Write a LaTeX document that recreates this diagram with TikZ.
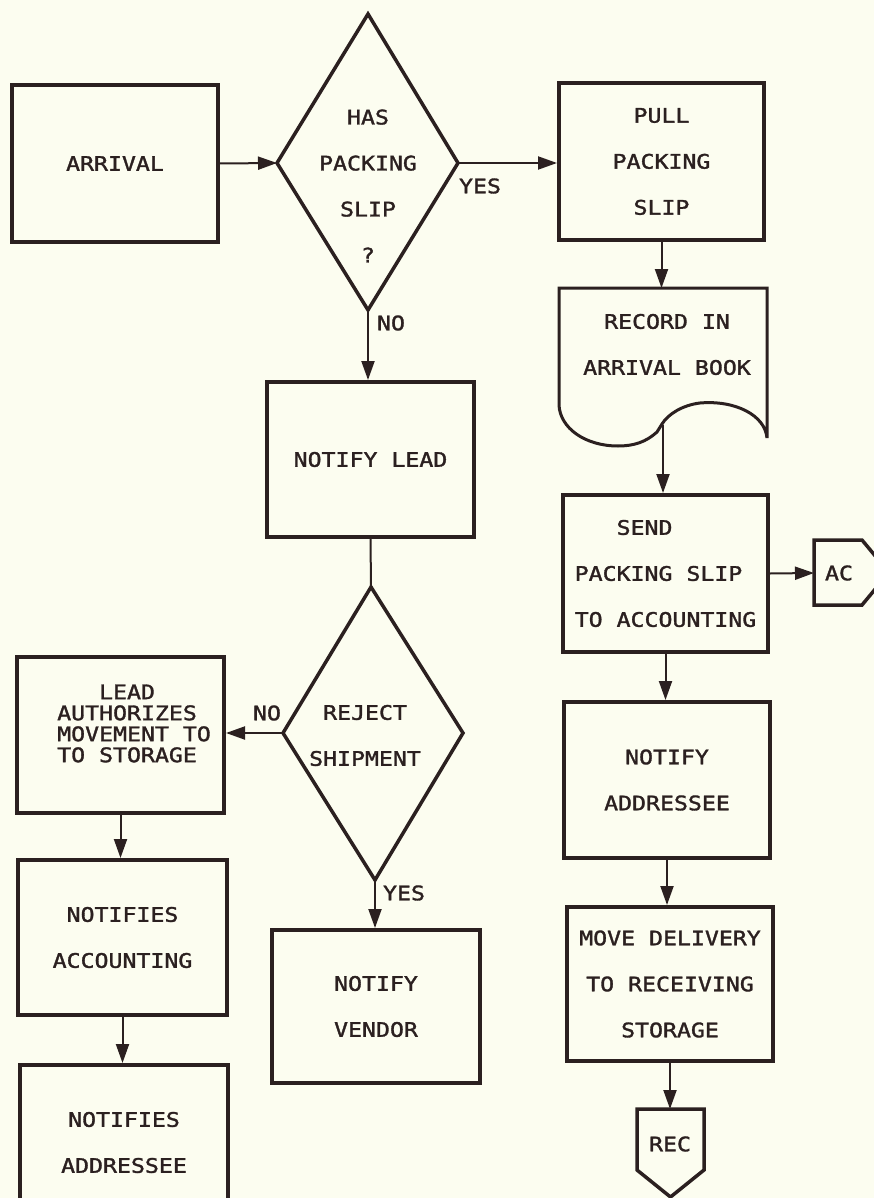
\documentclass[tikz,border=0pt]{standalone}
\usepackage{fontspec}
\newfontfamily\plotfont{DejaVu Sans Mono}[FakeStretch=1.16, FakeBold=1.6]
\usetikzlibrary{arrows.meta}
\definecolor{paper}{RGB}{252,253,240}
\definecolor{ink}{RGB}{43,32,32}
\begin{document}
\begin{tikzpicture}[x=1pt,y=-1pt,
  txt/.style={font=\plotfont\fontsize{20}{46}\selectfont, text=ink, align=center, inner sep=0pt},
  tight/.style={font=\plotfont\fontsize{20}{21}\selectfont},
  box/.style={txt, draw=ink, line width=4pt, rectangle},
  arr/.style={draw=ink, line width=2pt, -{Triangle[length=19pt,width=13pt]}},
  conn/.style={draw=ink, line width=2pt},
  shp/.style={draw=ink, line width=3.5pt}
]
\fill[paper] (0,0) rectangle (874,1198);
\useasboundingbox (0,0) rectangle (874,1198);
\clip (0,0) rectangle (874,1198);

% left / middle top
\node[box, minimum width=206pt, minimum height=157pt] (arrival) at (115,163.5) {ARRIVAL};
\coordinate (d1t) at (368,14);
\coordinate (d1l) at (277,163);
\coordinate (d1r) at (458,163);
\coordinate (d1b) at (368,310);
\draw[shp] (d1t) -- (d1r) -- (d1b) -- (d1l) -- cycle;
\node[txt] (d1) at (368,186) {HAS\\PACKING\\SLIP\\?};
\node[txt] (yes1) at (480,186) {YES};
\node[txt] (no1) at (391,323) {NO};

\node[box, minimum width=205pt, minimum height=157pt] (pull) at (661.5,161.5) {PULL\\PACKING\\SLIP};

% document shape
\coordinate (recin) at (662,288);
\coordinate (recout) at (663,425);
\draw[shp, line width=3pt] (559,288) -- (767,288) -- (767,438)
  .. controls (765,415) and (735,400) .. (700,403)
  .. controls (683,405) and (668,414) .. (662,424)
  -- (657,432)
  .. controls (646,442) and (634,446) .. (618,446)
  .. controls (585,446) and (560,428) .. (559,405) -- cycle;
\node[txt] (record) at (667,344.5) {RECORD IN\\ARRIVAL BOOK};

\node[box, minimum width=207pt, minimum height=155pt] (nlead) at (370.5,459.5) {NOTIFY LEAD};

\coordinate (d2t) at (371,587);
\coordinate (d2l) at (283,733);
\coordinate (d2r) at (463,733);
\coordinate (d2b) at (375,880);
\draw[shp] (d2t) -- (d2r) -- (d2b) -- (d2l) -- cycle;
\node[txt] (d2) at (365,735.5) {REJECT\\SHIPMENT};
\node[txt] (no2) at (267,713) {NO};
\node[txt] (yes2) at (404,893) {YES};

\node[box, minimum width=207pt, minimum height=156pt] (lead) at (120.5,735) {};
\node[txt, tight, align=left, anchor=west] (leadtxt) at (57,723.5)
  {\hphantom{AUT}LEAD\\AUTHORIZES\\MOVEMENT TO\\TO STORAGE};
\node[box, minimum width=209pt, minimum height=155pt] (acct) at (122.5,937.5) {NOTIFIES\\ACCOUNTING};
\node[box, minimum width=208pt, minimum height=155pt] (addr) at (124,1142.5) {NOTIFIES\\ADDRESSEE};
\node[box, minimum width=208pt, minimum height=153pt] (vendor) at (376,1006.5) {NOTIFY\\VENDOR};

% right column
\node[box, minimum width=205pt, minimum height=157pt, align=left] (send) at (665.5,573.5)
  {\hphantom{PAC}SEND\\PACKING SLIP\\TO ACCOUNTING};
\node[box, minimum width=206pt, minimum height=156pt] (raddr) at (667,780) {NOTIFY\\ADDRESSEE};
\node[box, minimum width=206pt, minimum height=154pt] (move) at (670,984) {MOVE DELIVERY\\TO RECEIVING\\STORAGE};

\draw[shp] (814,540) -- (862,540) -- (889,572.5) -- (862,605) -- (814,605) -- cycle;
\node[txt] (ac) at (839,573) {AC};
\coordinate (acw) at (814,573);

\draw[shp] (637,1109) -- (704,1109) -- (704,1170) -- (670.5,1197) -- (637,1170) -- cycle;
\node[txt] (rec) at (670,1144) {REC};
\coordinate (recn) at (670,1109);

% connectors
\draw[arr] (arrival.east) -- (d1l);
\draw[arr] (d1r) -- (d1r -| pull.west);
\draw[arr] (pull.south) -- (pull.south |- recin);
\draw[arr] (d1b) -- (d1b |- nlead.north);
\draw[conn] (nlead.south) -- (d2t);
\draw[arr] (d2l) -- (d2l -| lead.east);
\draw[arr] (d2b) -- (d2b |- vendor.north);
\draw[arr] (lead.south) -- (lead.south |- acct.north);
\draw[arr] (acct.south) -- (acct.south |- addr.north);
\draw[arr] (recout) -- (recout |- send.north);
\draw[arr] (send.east) -- (acw);
\draw[arr] (send.south) -- (send.south |- raddr.north);
\draw[arr] (raddr.south) -- (raddr.south |- move.north);
\draw[arr] (move.south) -- (recn);
\end{tikzpicture}
\end{document}
